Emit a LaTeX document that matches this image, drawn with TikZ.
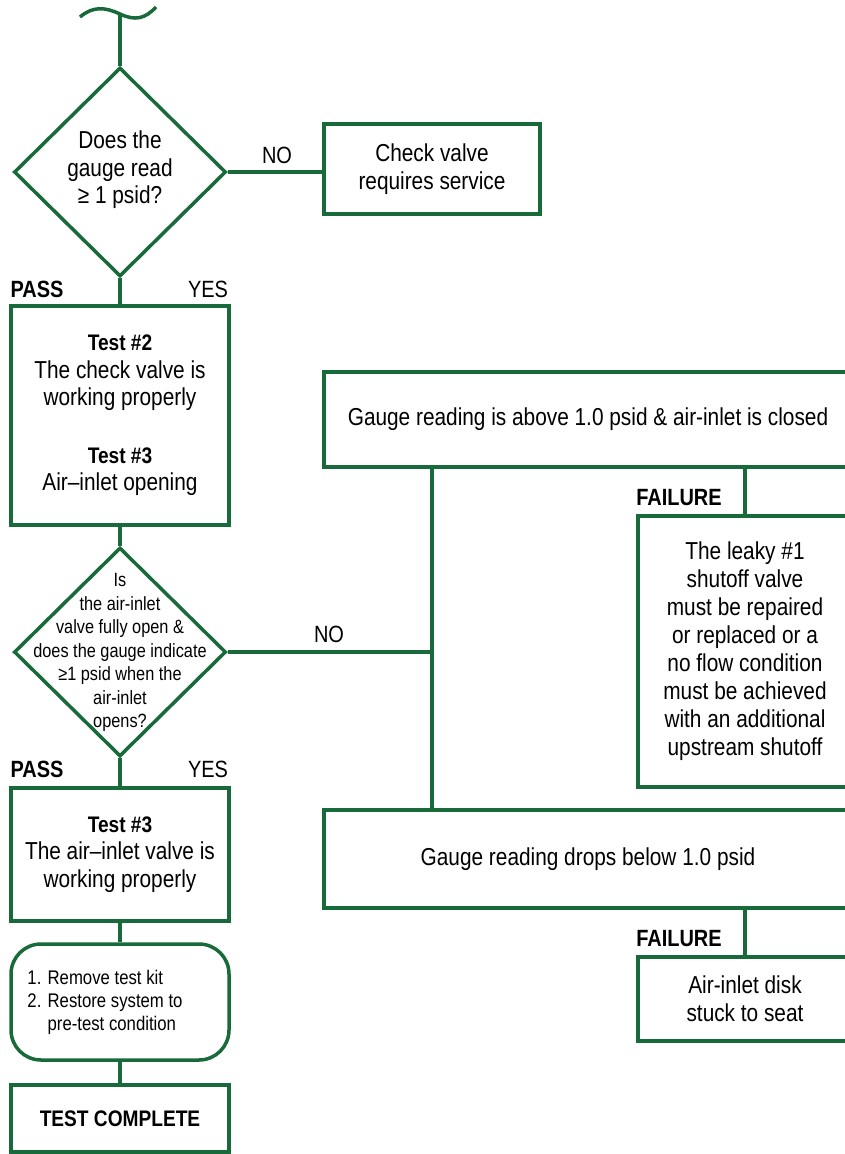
\documentclass[tikz,border=0pt]{standalone}
\usepackage{fontspec}
\setmainfont{Liberation Sans}[FakeStretch=0.85]
\usetikzlibrary{shapes.geometric}
\definecolor{fg}{RGB}{24,106,58}
\newcommand{\bhead}[1]{{\bfseries\fontsize{22.5}{27.5}\selectfont #1}}
\begin{document}
\begin{tikzpicture}[x=1pt,y=-1pt,
  conn/.style={draw=fg, line width=3.5pt},
  box/.style={draw=fg, line width=3.5pt, rectangle, inner sep=0pt, align=center, font=\fontsize{24.5}{27.5}\selectfont},
  dia/.style={draw=fg, line width=3.5pt, diamond, inner sep=0pt, minimum width=212pt, minimum height=209pt},
  txt/.style={inner sep=0pt, align=center, font=\fontsize{24.5}{27.5}\selectfont},
  small/.style={inner sep=0pt, align=center, font=\fontsize{19.2}{23.5}\selectfont},
  lbl/.style={inner sep=0pt, font=\fontsize{23.5}{27}\selectfont},
  blbl/.style={inner sep=0pt, font=\bfseries\fontsize{23.5}{27}\selectfont}]
\useasboundingbox (0,0) rectangle (845,1154);
\clip (0,0) rectangle (845,1154);
% wave
\coordinate (w) at (120,14);
\draw[conn] (80,17) .. controls (93,6) and (105,7) .. (w) .. controls (135,21) and (145,19) .. (156,7);
% left column
\node[dia] (d1) at (120,172) {};
\node[txt] at (120,170) {Does the\\gauge read\\≥ 1 psid?};
\node[box, minimum width=216pt, minimum height=90pt] (cv) at (432,169) {Check valve\\requires service};
\node[box, minimum width=218pt, minimum height=219pt] (t1) at (120,415.5)
  {\bhead{Test \#2}\\The check valve is\\working properly\\[30pt]\bhead{Test \#3}\\Air–inlet opening};
\node[dia] (d2) at (120,652) {};
\node[small] at (120,652.5) {Is\\the air-inlet\\valve fully open \&\\does the gauge indicate\\≥1 psid when the\\air-inlet\\opens?};
\node[box, minimum width=218pt, minimum height=133pt] (t3) at (120,854.5)
  {\bhead{Test \#3}\\The air–inlet valve is\\working properly};
\node[box, rounded corners=30pt, minimum width=218pt, minimum height=116pt] (rm) at (120,1002) {};
\node[anchor=west, inner sep=0pt, align=left, font=\fontsize{19.7}{23}\selectfont] at ([xshift=18pt]rm.west)
  {1. Remove test kit\\2. Restore system to\\\phantom{2. }pre-test condition};
\node[box, minimum width=218pt, minimum height=67pt] (tc) at (120,1118.5) {\bhead{TEST COMPLETE}};
% right column
\node[box, minimum width=528pt, minimum height=95pt] (tr) at (588,419.5)
  {Gauge reading is above 1.0 psid \& air-inlet is closed};
\node[box, minimum width=214pt, minimum height=271pt, font=\fontsize{24.5}{28}\selectfont] (f1) at (745,651.5)
  {The leaky \#1\\shutoff valve\\must be repaired\\or replaced or a\\no flow condition\\must be achieved\\with an additional\\upstream shutoff};
\node[box, minimum width=528pt, minimum height=98pt] (br) at (588,859)
  {Gauge reading drops below 1.0 psid};
\node[box, minimum width=214pt, minimum height=84pt, font=\fontsize{24.5}{28}\selectfont] (f2) at (745,999)
  {Air-inlet disk\\stuck to seat};
\coordinate (j) at (432,652);
% labels
\node[lbl] (no1) at (277,155) {NO};
\node[lbl] (no2) at (329,634) {NO};
\node[lbl] (yes1) at (208,289) {YES};
\node[lbl] (yes2) at (208,769) {YES};
\node[blbl] (pass1) at (37,289) {PASS};
\node[blbl] (pass2) at (37,769) {PASS};
\node[blbl] (fail1) at (679,498) {FAILURE};
\node[blbl] (fail2) at (679,939) {FAILURE};
% connectors
\draw[conn] (w) -- (d1.north);
\draw[conn] (d1.east) -- (d1.east -| cv.west);
\draw[conn] (d1.south) -- (t1.north);
\draw[conn] (t1.south) -- (d2.north);
\draw[conn] (d2.east) -- (j);
\draw[conn] (tr.south -| j) -- (br.north -| j);
\draw[conn] (tr.south -| f1) -- (f1.north);
\draw[conn] (br.south -| f2) -- (f2.north);
\draw[conn] (d2.south) -- (t3.north);
\draw[conn] (t3.south) -- (rm.north);
\draw[conn] (rm.south) -- (tc.north);
\end{tikzpicture}
\end{document}
